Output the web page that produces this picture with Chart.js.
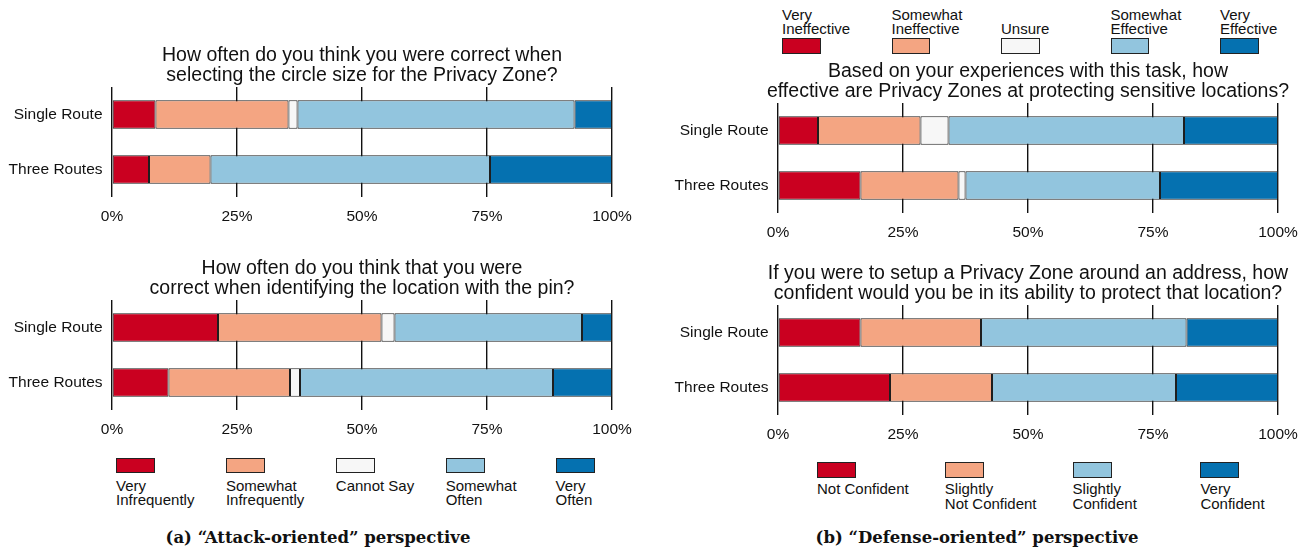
<!DOCTYPE html>
<html>
<head>
<meta charset="utf-8">
<script src="https://cdn.jsdelivr.net/npm/chart.js@4.4.1/dist/chart.umd.min.js"></script>
<style>
  html, body { margin: 0; padding: 0; background: #fff; overflow: hidden; width: 1311px; height: 552px; }
  body { position: relative; font-family: 'Liberation Sans', Arial, sans-serif; color: #111; }
  canvas { position: absolute; }
  .key { position: absolute; box-sizing: border-box; border: 1px solid #222; }
  .lab { position: absolute; font-size: 15px; white-space: pre; }
  .cap { position: absolute; font-family: 'DejaVu Serif', serif; font-weight: bold; font-size: 16.5px;
         white-space: nowrap; transform: translateX(-50%); }
</style>
</head>
<body>
<canvas id="circleSize"></canvas>
<canvas id="pinLocation"></canvas>
<canvas id="zoneEffect"></canvas>
<canvas id="zoneConfidence"></canvas>
<div id="legends"></div>
<div class="cap" style="left:318px; top:528px;">(a) “Attack-oriented” perspective</div>
<div class="cap" style="left:977px; top:528px;">(b) “Defense-oriented” perspective</div>

<script>
// Survey groups and axis labels
const routes = ['Single Route', 'Three Routes'];
const tickLabels = ['0%', '25%', '50%', '75%', '100%'];

// Answer scales (line breaks are used in the legends)
const frequencyLevels = ['Very\nInfrequently', 'Somewhat\nInfrequently', 'Cannot Say', 'Somewhat\nOften', 'Very\nOften'];
const effectivenessLevels = ['Very\nIneffective', 'Somewhat\nIneffective', 'Unsure', 'Somewhat\nEffective', 'Very\nEffective'];
const confidenceLevels = ['Not Confident', 'Slightly\nNot Confident', 'Slightly\nConfident', 'Very\nConfident'];

// Question titles
const circleSizeTitle = ['How often do you think you were correct when', 'selecting the circle size for the Privacy Zone?'];
const pinLocationTitle = ['How often do you think that you were', 'correct when identifying the location with the pin?'];
const zoneEffectTitle = ['Based on your experiences with this task, how', 'effective are Privacy Zones at protecting sensitive locations?'];
const zoneConfidenceTitle = ['If you were to setup a Privacy Zone around an address, how', 'confident would you be in its ability to protect that location?'];

// Share of responses (%) per answer level
const circleSizeSingle = [8.7, 26.6, 1.8, 55.4, 7.5];
const circleSizeThree  = [7.4, 12.3, 0.0, 55.9, 24.4];
const pinLocationSingle = [21.2, 32.7, 2.6, 37.5, 6.0];
const pinLocationThree  = [11.3, 24.3, 2.0, 50.6, 11.8];
const zoneEffectSingle = [8.0, 20.5, 5.6, 47.1, 18.8];
const zoneEffectThree  = [16.5, 19.6, 1.4, 38.9, 23.6];
const zoneConfidenceSingle = [16.5, 24.1, 41.1, 18.3];
const zoneConfidenceThree  = [22.4, 20.4, 36.8, 20.4];

// Diverging red-blue colours
const palette5 = ['#ca0020', '#f4a582', '#f7f7f7', '#92c5de', '#0571b0'];
const palette4 = ['#ca0020', '#f4a582', '#92c5de', '#0571b0'];

const FONT = "'Liberation Sans', Arial, sans-serif";
const INK = '#111';

// One stacked 100% bar panel; an empty right-hand axis mirrors the label
// column so the title is centred over the plot area.
function stackedChart(id, plotLeft, top, axisW, plotW, title, levels, colors, single, three) {
  const canvas = document.getElementById(id);
  canvas.width = axisW * 2 + plotW;
  canvas.height = 41 + 110 + 30;
  canvas.style.left = (plotLeft - axisW) + 'px';
  canvas.style.top = top + 'px';
  return new Chart(canvas, {
    type: 'bar',
    data: {
      labels: routes,
      datasets: levels.map((lv, i) => ({
        label: lv.replace('\n', ' '),
        data: [single[i], three[i]],
        backgroundColor: colors[i],
        borderColor: '#1e1e1e',
        borderWidth: 1,
        borderSkipped: false,
        categoryPercentage: 1,
        barPercentage: 0.515
      }))
    },
    options: {
      indexAxis: 'y',
      responsive: false,
      animation: false,
      devicePixelRatio: 1,
      layout: { padding: 0 },
      plugins: {
        legend: { display: false },
        tooltip: { enabled: false },
        title: {
          display: true,
          text: title,
          color: INK,
          font: { family: FONT, size: 19.5, lineHeight: 1, weight: 'normal' },
          padding: { top: 0, bottom: 2 }
        }
      },
      scales: {
        x: {
          type: 'linear',
          stacked: true,
          min: 0,
          max: 100,
          afterFit: s => { s.height = 30; },
          ticks: {
            stepSize: 25,
            autoSkip: false,
            maxRotation: 0,
            padding: 10,
            color: INK,
            font: { family: FONT, size: 15.5 },
            callback: (v, i) => tickLabels[i]
          },
          grid: { color: '#111', lineWidth: 1.4, drawTicks: false },
          border: { display: false }
        },
        y: {
          stacked: true,
          afterFit: s => { s.width = axisW; },
          grid: { display: false, drawTicks: false },
          border: { display: false },
          ticks: { color: INK, padding: 9.5, font: { family: FONT, size: 15.5 } }
        },
        yMirror: {
          type: 'category',
          axis: 'y',
          position: 'right',
          afterFit: s => { s.width = axisW; },
          grid: { display: false, drawTicks: false },
          border: { display: false },
          ticks: { display: false }
        }
      }
    }
  });
}

stackedChart('circleSize', 112, 46, 112, 500, circleSizeTitle, frequencyLevels, palette5, circleSizeSingle, circleSizeThree);
stackedChart('pinLocation', 112, 259, 112, 500, pinLocationTitle, frequencyLevels, palette5, pinLocationSingle, pinLocationThree);
stackedChart('zoneEffect', 778, 62, 118, 500, zoneEffectTitle, effectivenessLevels, palette5, zoneEffectSingle, zoneEffectThree);
stackedChart('zoneConfidence', 778, 264, 118, 500, zoneConfidenceTitle, confidenceLevels, palette4, zoneConfidenceSingle, zoneConfidenceThree);

// Legends: boxes with labels either below (frequency, confidence) or above (effectiveness)
function legend(levels, colors, opts) {
  const host = document.getElementById('legends');
  levels.forEach((lv, i) => {
    const x = opts.x0 + i * opts.step;
    const box = document.createElement('div');
    box.className = 'key';
    box.style.cssText = `left:${x}px; top:${opts.boxTop}px; width:${opts.boxW}px; height:${opts.boxH}px; background:${colors[i]};`;
    host.appendChild(box);
    const lab = document.createElement('div');
    lab.className = 'lab';
    lab.textContent = lv;
    const lines = lv.split('\n').length;
    let top = opts.labelTop;
    if (opts.above && lines === 1) top += opts.lineH;
    lab.style.cssText = `left:${x}px; top:${top}px; line-height:${opts.lineH}px;`;
    host.appendChild(lab);
  });
}

legend(frequencyLevels, palette5, { x0: 116, step: 109.9, boxTop: 457.5, boxW: 39, boxH: 15.5, labelTop: 478.5, lineH: 14.3 });
legend(effectivenessLevels, palette5, { x0: 782, step: 109.5, boxTop: 38.3, boxW: 38.5, boxH: 15.7, labelTop: 8, lineH: 14, above: true });
legend(confidenceLevels, palette4, { x0: 817, step: 127.8, boxTop: 462, boxW: 39, boxH: 16, labelTop: 481.8, lineH: 14.8 });
</script>
</body>
</html>
